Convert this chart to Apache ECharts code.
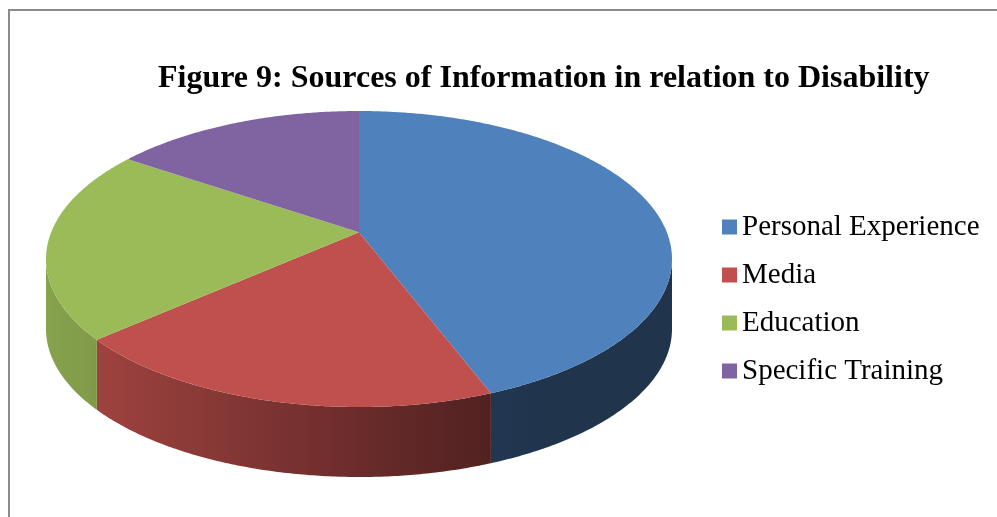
<!DOCTYPE html>
<html>
<head>
<meta charset="utf-8">
<script src="https://cdn.jsdelivr.net/npm/echarts@6/dist/echarts.min.js"></script>
<style>
  html, body { margin: 0; padding: 0; background: #fff; }
  #chart { width: 997px; height: 517px; }
</style>
</head>
<body>
<div id="chart"></div>
<script>
// data (share of respondents, %)
const categories = ["Personal Experience", "Media", "Education", "Specific Training"];
const values = [44.2, 19.3, 21.0, 15.5];
const colors = ["#4F81BD", "#C0504D", "#9BBB59", "#8064A2"];

// 3D pie geometry (screen layout)
const CX = 359, CY = 259, RX = 313, RY = 148, DEPTH = 70;
const B = -0.18; // perspective shift of the pie centre

const total = values.reduce((a, b) => a + b, 0);
const starts = [];
let acc = 0;
values.forEach(v => { starts.push(acc); acc += v; });

function proj(theta) {
  const u = Math.sin(theta), v = -Math.cos(theta);
  const d = 1 + B * v;
  return [CX + RX * u * Math.sqrt(1 - B * B) / d, CY + RY * (v + B) / d];
}

function shade(hex, f) {
  const n = parseInt(hex.slice(1), 16);
  const r = Math.round(((n >> 16) & 255) * f);
  const g = Math.round(((n >> 8) & 255) * f);
  const b = Math.round((n & 255) * f);
  return "rgb(" + r + "," + g + "," + b + ")";
}

function sideGradient(hex) {
  const stops = [];
  for (let i = 0; i <= 10; i++) {
    const u = -1 + i * 0.2;
    const f = Math.max(0.4, Math.min(0.87, 0.554 - 0.32 * u));
    stops.push({ offset: i / 10, color: shade(hex, f) });
  }
  return { type: "linear", x: CX - RX, y: 0, x2: CX + RX, y2: 0, global: true, colorStops: stops };
}

function arc(a0, a1, dy) {
  const pts = [];
  const n = Math.max(2, Math.ceil((a1 - a0) / (Math.PI / 360)));
  for (let i = 0; i <= n; i++) {
    const p = proj(a0 + (a1 - a0) * i / n);
    pts.push([p[0], p[1] + dy]);
  }
  return pts;
}

const thMin = Math.acos(B), thMax = 2 * Math.PI - Math.acos(B);

function makeRender(idx) {
  return function (params, api) {
    const a0 = api.value(0) / total * 2 * Math.PI;
    const a1 = (api.value(0) + api.value(1)) / total * 2 * Math.PI;
    const children = [];
    const s0 = Math.max(a0, thMin), s1 = Math.min(a1, thMax);
    if (s1 > s0) {
      const top = arc(s0, s1, 0);
      const bottom = arc(s0, s1, DEPTH).reverse();
      children.push({
        type: "polygon",
        shape: { points: top.concat(bottom) },
        style: { fill: sideGradient(colors[idx]), stroke: null }
      });
    }
    const apex = [CX, CY + RY * B];
    children.push({
      type: "polygon",
      shape: { points: [apex].concat(arc(a0, a1, 0)) },
      style: { fill: colors[idx], stroke: null }
    });
    return { type: "group", children: children };
  };
}

const series = categories.map((name, i) => ({
  type: "custom",
  name: name,
  coordinateSystem: "none",
  silent: true,
  itemStyle: { color: colors[i] },
  renderItem: makeRender(i),
  data: [[starts[i], values[i]]]
}));

const chart = echarts.init(document.getElementById("chart"));
chart.setOption({
  animation: false,
  color: colors,
  title: {
    text: "Figure 9: Sources of Information in relation to Disability",
    left: 153,
    top: 58,
    textStyle: {
      fontFamily: "Liberation Serif",
      fontWeight: "bold",
      fontSize: 32,
      color: "#000"
    }
  },
  legend: {
    orient: "vertical",
    left: 722,
    top: 211,
    padding: 0,
    icon: "rect",
    itemWidth: 15,
    itemHeight: 15,
    itemGap: 16,
    selectedMode: false,
    data: categories,
    textStyle: {
      fontFamily: "Liberation Serif",
      fontSize: 29,
      lineHeight: 32,
      color: "#000"
    }
  },
  graphic: [{
    type: "polyline",
    shape: { points: [[9, 530], [9, 10], [1010, 10]] },
    style: { stroke: "#8c8c8c", lineWidth: 2, fill: null },
    silent: true
  }],
  series: series
});
</script>
</body>
</html>
